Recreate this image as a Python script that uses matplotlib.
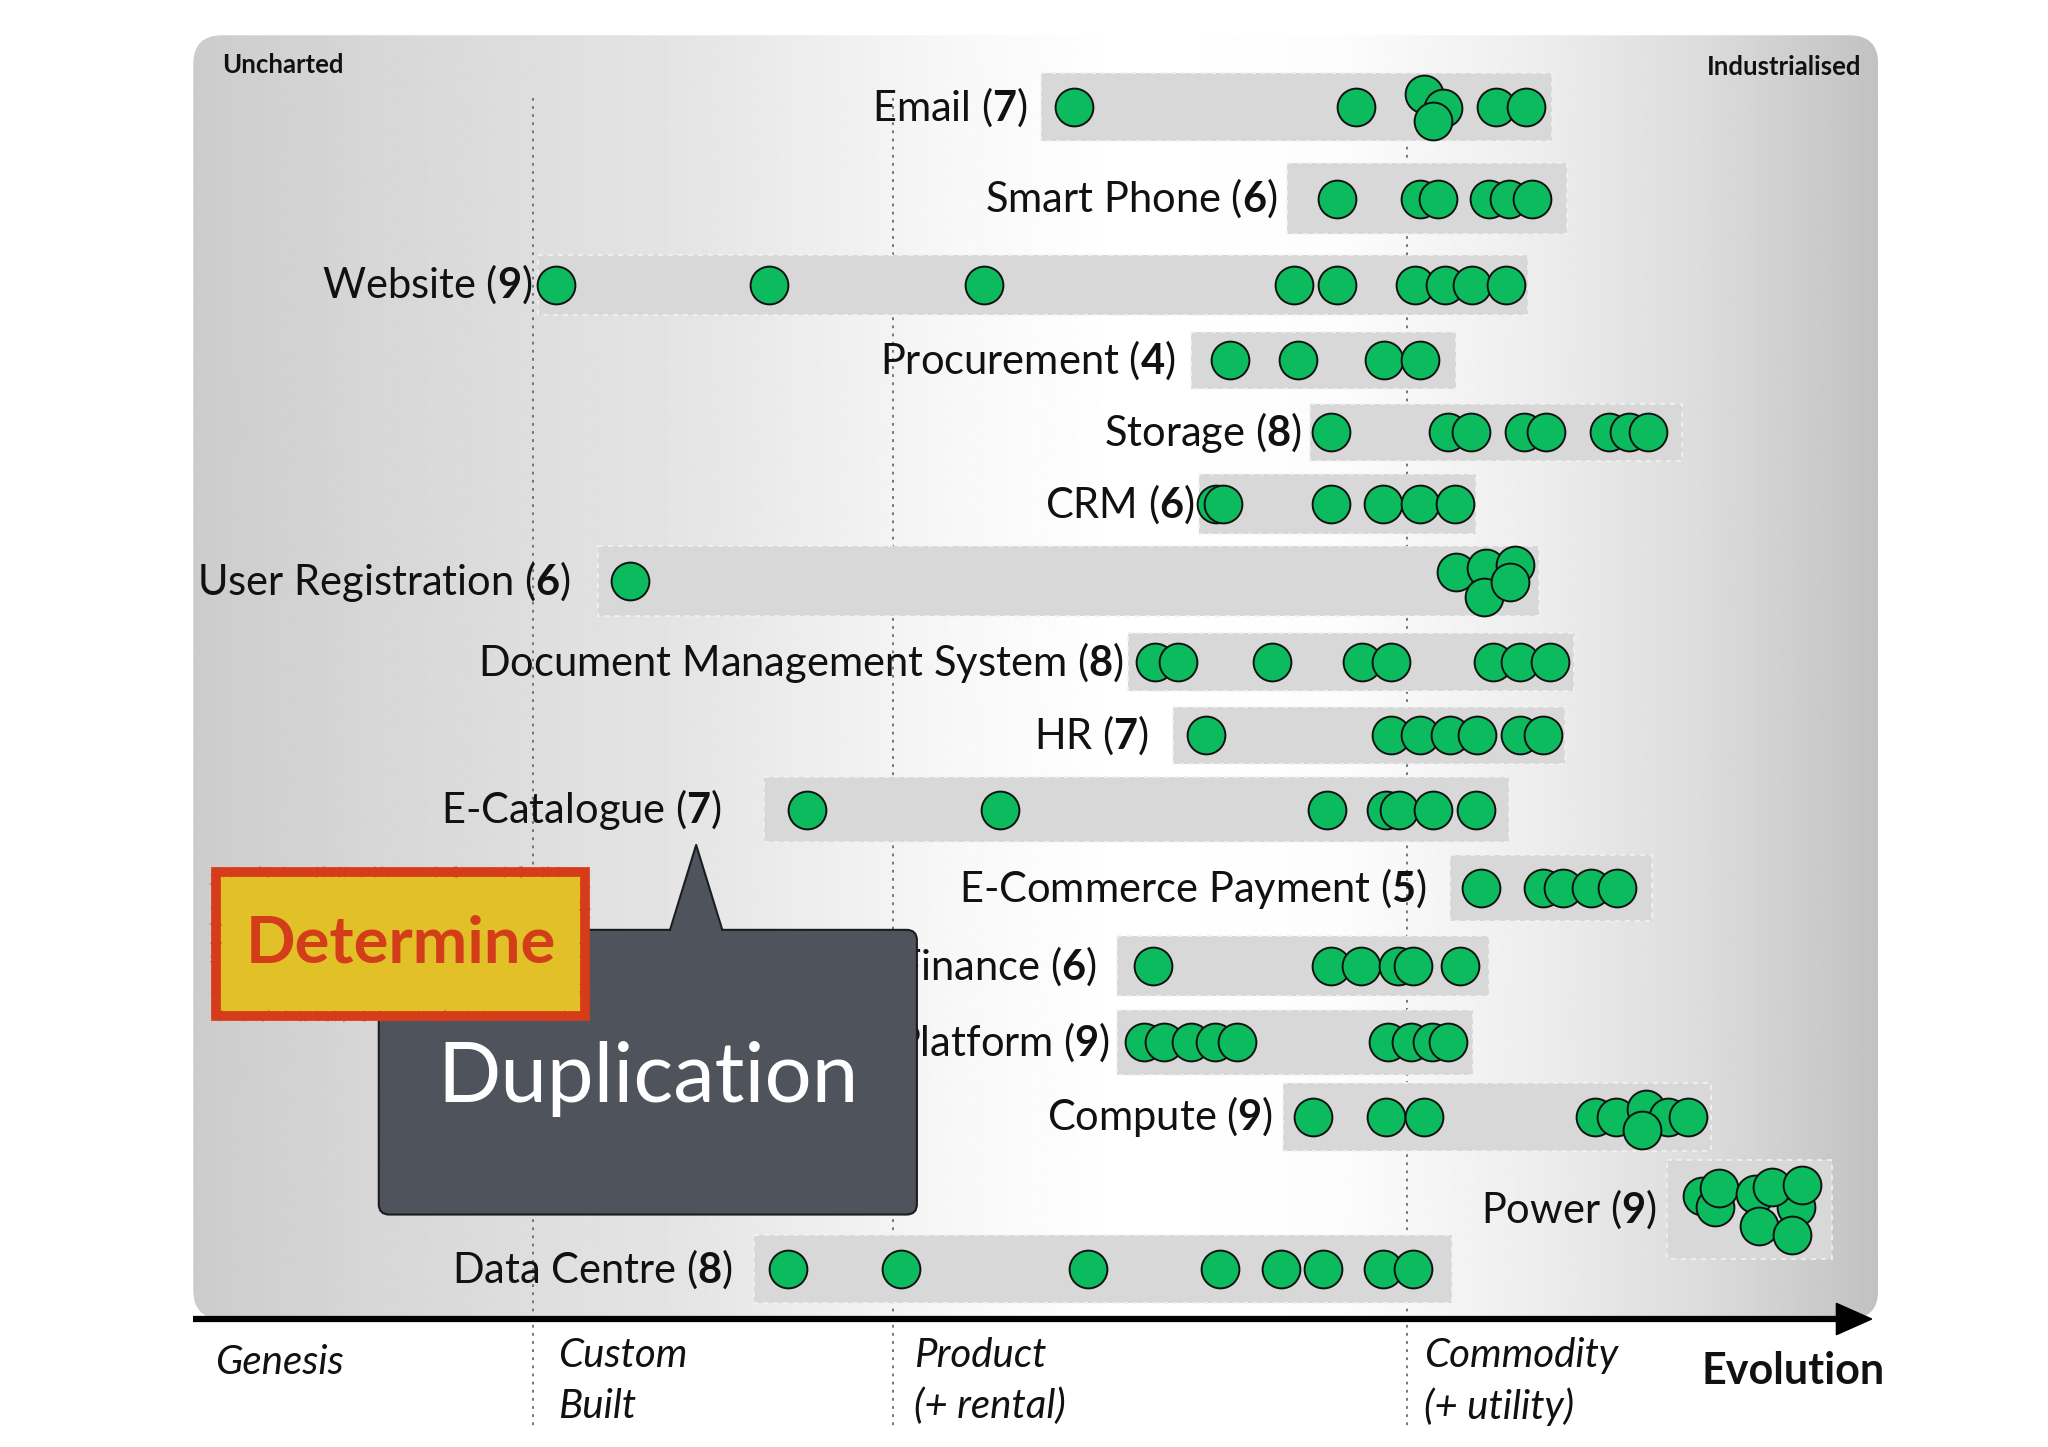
import matplotlib.pyplot as plt
import numpy as np
from matplotlib.patches import FancyBboxPatch, Rectangle, Polygon

plt.rcParams['font.family'] = ['Lato', 'DejaVu Sans']
plt.rcParams['mathtext.fontset'] = 'custom'
plt.rcParams['mathtext.rm'] = 'Lato'
plt.rcParams['mathtext.bf'] = 'Lato:bold'

# value chain components, number of respondents, and where each respondent put it
components = ['Email', 'Smart Phone', 'Website', 'Procurement', 'Storage', 'CRM',
              'User Registration', 'Document Management System', 'HR', 'E-Catalogue',
              'E-Commerce Payment', 'Finance', 'Platform', 'Compute', 'Power', 'Data Centre']
counts = [7, 6, 9, 4, 8, 6, 6, 8, 7, 7, 5, 6, 9, 9, 9, 8]

dots_x = [
    [822, 1038, 1090, 1105, 1097, 1145, 1168],
    [1024, 1087, 1101, 1140, 1155, 1173],
    [426, 589, 753, 991, 1024, 1083, 1106, 1127, 1153],
    [942, 994, 1060, 1087],
    [1019, 1109, 1126, 1167, 1184, 1232, 1247, 1262],
    [931, 936, 1019, 1059, 1087, 1114],
    [482, 1115, 1138, 1160, 1136, 1156],
    [884, 902, 974, 1043, 1065, 1143, 1164, 1187],
    [923, 1065, 1087, 1110, 1131, 1164, 1181],
    [618, 766, 1016, 1061, 1071, 1097, 1130],
    [1134, 1181, 1197, 1218, 1238],
    [883, 1019, 1042, 1070, 1082, 1118],
    [876, 891, 912, 930, 947, 1063, 1080, 1096, 1109],
    [1005, 1061, 1090, 1221, 1237, 1260, 1277, 1292, 1257],
    [1303, 1313, 1316, 1344, 1375, 1357, 1380, 1347, 1372],
    [603, 690, 833, 934, 981, 1013, 1059, 1082],
]
# vertical offsets of dots within a row (clusters)
dots_dy = {
    0: [0, 0, -10, 1, 11, 0, 0],
    6: [0, -7, -10, -12, 12, 1],
    13: [0, 0, 0, 0, 0, -6, 0, 0, 10],
    14: [-10, -2, -16, -12, -2, -17, -19, 13, 20],
}

stage_names = ['Genesis', 'Custom\nBuilt', 'Product\n(+ rental)', 'Commodity\n(+ utility)']

# layout (positions in pixels of the shrunk picture)
row_y = [82, 152, 218, 276, 331, 386, 445, 507, 563, 620, 680, 740, 798, 855, 926, 972]
label_right = [787, 978, 408, 900, 997, 915, 437, 860, 880, 553, 1092, 840, 850, 975, 1268, 561]
bar_left = [797, 985, 412, 912, 1003, 918, 458, 864, 898, 585, 1110, 855, 855, 982, 1276, 577]
bar_right = [1188, 1200, 1170, 1115, 1288, 1130, 1178, 1205, 1198, 1155, 1265, 1140, 1128, 1310, 1403, 1112]
bar_half = [26, 27, 23, 22, 22, 23, 27, 22, 22, 25, 25, 23, 25, 26, 38, 26]
stage_x = [165, 427, 700, 1090]
stage_lines = [408, 684, 1077]

W, H = 1568, 1108
fig = plt.figure(figsize=(20.48, 14.47), dpi=100)
ax = fig.add_axes([0, 0, 1, 1])
ax.set_xlim(0, W)
ax.set_ylim(H, 0)
ax.axis('off')

# background panel with horizontal gradient
px0, py0, px1, py1, r = 148, 27, 1438, 1010, 22
panel = FancyBboxPatch((px0 + r, py0 + r), px1 - px0 - 2 * r, py1 - py0 - 2 * r,
                       boxstyle=f'round,pad={r}', facecolor='none', edgecolor='none')
ax.add_patch(panel)
gx = np.linspace(0, 1, 800)
g = np.interp(gx, [0, 0.1, 0.3, 0.45, 0.55, 0.68, 0.8, 0.9, 1.0],
              [0.80, 0.84, 0.90, 0.97, 1.0, 0.99, 0.93, 0.86, 0.76])
im = ax.imshow(np.tile(g, (2, 1)), cmap='gray', vmin=0, vmax=1, aspect='auto',
               extent=[px0, px1, py1, py0], interpolation='bilinear', zorder=0)
im.set_clip_path(panel)

# stage dividers
for xs in stage_lines:
    ax.plot([xs, xs], [75, 1092], color='#6a6a6a', lw=1.3, ls=(0, (1.5, 3)), zorder=1)

# rows
for i, name in enumerate(components):
    y = row_y[i]
    h = bar_half[i]
    ax.add_patch(Rectangle((bar_left[i], y - h), bar_right[i] - bar_left[i], 2 * h,
                           facecolor='#d8d8d8', edgecolor='#f2f2f2', lw=1.2,
                           ls=(0, (3, 3)), zorder=2))
    ax.text(label_right[i], y, f'{name} ($\\mathbf{{{counts[i]}}}$)', ha='right',
            va='center', fontsize=30, color='#111111', zorder=5)
    dy = dots_dy.get(i, [0] * len(dots_x[i]))
    ax.scatter(dots_x[i], [y + d for d in dy], s=740, color='#0dbb5f',
               edgecolor='#111111', linewidth=1.4, zorder=4)

# evolution axis
ax.plot([px0, 1415], [1010, 1010], color='black', lw=4.5, solid_capstyle='butt', zorder=6)
ax.add_patch(Polygon([[1406, 998], [1433, 1010], [1406, 1022]], closed=True,
                     facecolor='black', edgecolor='black', zorder=6))

for xs, name in zip(stage_x, stage_names):
    if '\n' in name:
        top, bottom = name.split('\n')
        ax.text(xs, 1038, top, ha='left', va='center', fontsize=29, style='italic', color='#111111')
        ax.text(xs, 1077, bottom, ha='left', va='center', fontsize=29, style='italic', color='#111111')
    else:
        ax.text(xs, 1043, name, ha='left', va='center', fontsize=29, style='italic', color='#111111')
ax.text(1303, 1050, 'Evolution', ha='left', va='center', fontsize=31, fontweight='bold', color='#111111')

ax.text(170, 50, 'Uncharted', ha='left', va='center', fontsize=18.5, fontweight='bold', color='#111111')
ax.text(1425, 51, 'Industrialised', ha='right', va='center', fontsize=18.5, fontweight='bold', color='#111111')

# callout
box_col = '#4f535b'
ax.add_patch(FancyBboxPatch((298, 720), 396, 202, boxstyle='round,pad=8',
                            facecolor=box_col, edgecolor='#1c1c1c', lw=1.5, zorder=10))
ax.add_patch(Polygon([[513, 714], [533, 647], [553, 714]], closed=True,
                     facecolor=box_col, edgecolor='none', zorder=11))
ax.plot([513, 533, 553], [712, 647, 712], color='#1c1c1c', lw=1.5, zorder=11)
ax.text(496, 826, 'Duplication', ha='center', va='center', fontsize=60, color='white', zorder=12)

sticker = Rectangle((165, 668), 283, 110, facecolor='#e1c028', edgecolor='#d63c19', lw=7, zorder=13)
ax.add_patch(sticker)
rough = Rectangle((165, 668), 283, 110, facecolor='none', edgecolor='#d63c19', lw=3, zorder=13)
rough.set_sketch_params(scale=1.2, length=2, randomness=2)
ax.add_patch(rough)
ax.text(307, 723, 'Determine', ha='center', va='center', fontsize=47, fontweight='bold',
        color='#d43d1a', zorder=14)

fig.savefig('out.png', dpi=100)
